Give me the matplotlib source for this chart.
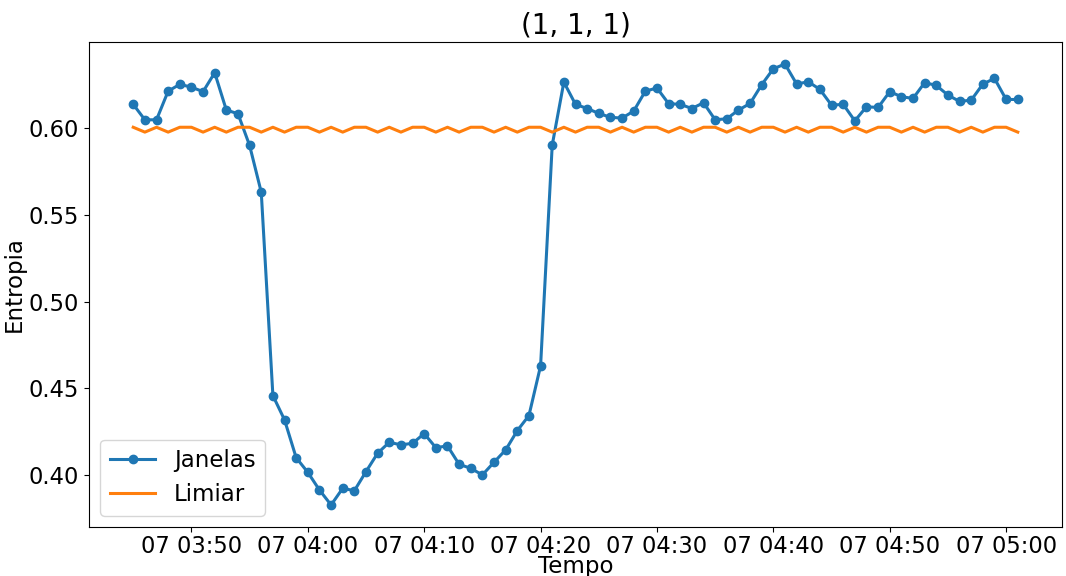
import matplotlib

matplotlib.use("Agg")
import matplotlib.dates as mdates
import matplotlib.pyplot as plt
import pandas as pd

# one window per minute, 03:45 -> 05:01
tempo = pd.date_range("2021-01-07 03:45", periods=77, freq="1min")

janelas = [
    0.6136, 0.6047, 0.6047, 0.6212, 0.6251, 0.6235, 0.6209, 0.6318, 0.6103, 0.6082,
    0.5899, 0.5630, 0.4459, 0.4319, 0.4101, 0.4017, 0.3915, 0.3829, 0.3925, 0.3911,
    0.4021, 0.4127, 0.4190, 0.4175, 0.4184, 0.4240, 0.4159, 0.4169, 0.4063, 0.4040,
    0.4002, 0.4075, 0.4146, 0.4257, 0.4344, 0.4630, 0.5901, 0.6264, 0.6136, 0.6112,
    0.6084, 0.6061, 0.6057, 0.6097, 0.6212, 0.6230, 0.6140, 0.6136, 0.6112, 0.6145,
    0.6047, 0.6053, 0.6103, 0.6141, 0.6249, 0.6341, 0.6368, 0.6253, 0.6266, 0.6222,
    0.6131, 0.6136, 0.6041, 0.6122, 0.6118, 0.6209, 0.6180, 0.6170, 0.6261, 0.6245,
    0.6189, 0.6153, 0.6160, 0.6253, 0.6285, 0.6164, 0.6164,
]

limiar = [
    0.6004, 0.5976, 0.6004, 0.5976, 0.6004, 0.6004, 0.5976, 0.6004, 0.5976, 0.6004,
    0.6004, 0.5976, 0.6004, 0.5976, 0.6004, 0.6004, 0.5976, 0.6004, 0.5976, 0.6004,
    0.6004, 0.5976, 0.6004, 0.5976, 0.6004, 0.6004, 0.5976, 0.6004, 0.5976, 0.6004,
    0.6004, 0.5976, 0.6004, 0.5976, 0.6004, 0.6004, 0.5976, 0.6004, 0.5976, 0.6004,
    0.6004, 0.5976, 0.6004, 0.5976, 0.6004, 0.6004, 0.5976, 0.6004, 0.5976, 0.6004,
    0.6004, 0.5976, 0.6004, 0.5976, 0.6004, 0.6004, 0.5976, 0.6004, 0.5976, 0.6004,
    0.6004, 0.5976, 0.6004, 0.5976, 0.6004, 0.6004, 0.5976, 0.6004, 0.5976, 0.6004,
    0.6004, 0.5976, 0.6004, 0.5976, 0.6004, 0.6004, 0.5976,
]

plt.rcParams["font.size"] = 16

fig = plt.figure(figsize=(10.66, 5.76), dpi=100)
ax = fig.add_axes([89 / 1066, 49 / 576, 973 / 1066, 485 / 576])

ax.plot(tempo, janelas, "o-", color="#1f77b4", lw=2.2, ms=6, label="Janelas")
ax.plot(tempo, limiar, "-", color="#ff7f0e", lw=2.2, label="Limiar")

ax.xaxis.set_major_locator(mdates.MinuteLocator(byminute=range(0, 60, 10)))
ax.xaxis.set_major_formatter(mdates.DateFormatter("%d %H:%M"))
ax.set_yticks([0.40, 0.45, 0.50, 0.55, 0.60])
ax.tick_params(labelsize=16.3)
ax.tick_params(axis="x", pad=2)

ax.set_title("(1, 1, 1)", fontsize=20)
ax.set_xlabel("Tempo", fontsize=16.5, labelpad=-2)
ax.set_ylabel("Entropia", fontsize=16.5, labelpad=2)
ax.legend(loc="lower left", fontsize=16.5)

fig.savefig("out.png", dpi=100)
